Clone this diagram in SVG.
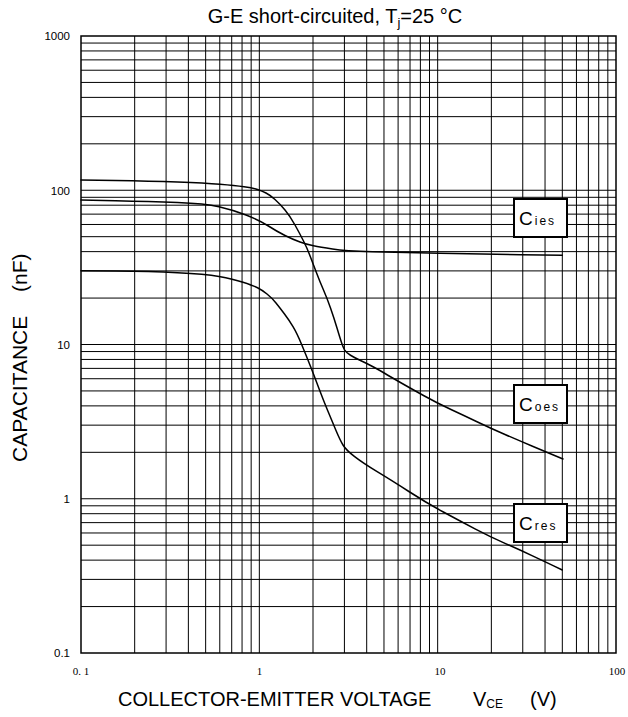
<svg xmlns="http://www.w3.org/2000/svg" width="628" height="717" viewBox="0 0 628 717">
<style>
.grid line{stroke:#000;stroke-width:1;fill:none}
.frame{fill:none;stroke:#000;stroke-width:1.5}
.curve{fill:none;stroke:#000;stroke-width:1.5;stroke-linejoin:round;stroke-linecap:round}
.lbox{fill:#fff;stroke:#000;stroke-width:2}
.sans{font-family:"Liberation Sans",Arial,sans-serif;fill:#000}
.serif{font-family:"Liberation Serif","Times New Roman",serif;fill:#000}
.yt{font-size:11.5px;text-anchor:end}
.xt{font-size:11px;text-anchor:middle}
.big{font-size:20px}
.cbig{font-size:19px}
.csub{font-size:12px;letter-spacing:2px}
</style>
<rect width="628" height="717" fill="#fff"/>
<g id="grid" class="grid">
<line x1="134.68" y1="36" x2="134.68" y2="653"/><line x1="166.09" y1="36" x2="166.09" y2="653"/><line x1="188.37" y1="36" x2="188.37" y2="653"/><line x1="205.65" y1="36" x2="205.65" y2="653"/><line x1="219.77" y1="36" x2="219.77" y2="653"/><line x1="231.71" y1="36" x2="231.71" y2="653"/><line x1="242.05" y1="36" x2="242.05" y2="653"/><line x1="251.17" y1="36" x2="251.17" y2="653"/><line x1="259.33" y1="36" x2="259.33" y2="653"/>
<line x1="313.01" y1="36" x2="313.01" y2="653"/><line x1="344.42" y1="36" x2="344.42" y2="653"/><line x1="366.7" y1="36" x2="366.7" y2="653"/><line x1="383.98" y1="36" x2="383.98" y2="653"/><line x1="398.1" y1="36" x2="398.1" y2="653"/><line x1="410.04" y1="36" x2="410.04" y2="653"/><line x1="420.38" y1="36" x2="420.38" y2="653"/><line x1="429.5" y1="36" x2="429.5" y2="653"/><line x1="437.67" y1="36" x2="437.67" y2="653"/>
<line x1="491.35" y1="36" x2="491.35" y2="653"/><line x1="522.76" y1="36" x2="522.76" y2="653"/><line x1="545.04" y1="36" x2="545.04" y2="653"/><line x1="562.32" y1="36" x2="562.32" y2="653"/><line x1="576.44" y1="36" x2="576.44" y2="653"/><line x1="588.38" y1="36" x2="588.38" y2="653"/><line x1="598.72" y1="36" x2="598.72" y2="653"/><line x1="607.84" y1="36" x2="607.84" y2="653"/>
<line x1="81" y1="143.82" x2="616" y2="143.82"/><line x1="81" y1="116.65" x2="616" y2="116.65"/><line x1="81" y1="97.38" x2="616" y2="97.38"/><line x1="81" y1="82.43" x2="616" y2="82.43"/><line x1="81" y1="70.22" x2="616" y2="70.22"/><line x1="81" y1="59.89" x2="616" y2="59.89"/><line x1="81" y1="50.95" x2="616" y2="50.95"/><line x1="81" y1="43.06" x2="616" y2="43.06"/>
<line x1="81" y1="190.25" x2="616" y2="190.25"/><line x1="81" y1="298.07" x2="616" y2="298.07"/><line x1="81" y1="270.9" x2="616" y2="270.9"/><line x1="81" y1="251.63" x2="616" y2="251.63"/><line x1="81" y1="236.68" x2="616" y2="236.68"/><line x1="81" y1="224.47" x2="616" y2="224.47"/><line x1="81" y1="214.14" x2="616" y2="214.14"/><line x1="81" y1="205.2" x2="616" y2="205.2"/><line x1="81" y1="197.31" x2="616" y2="197.31"/>
<line x1="81" y1="344.5" x2="616" y2="344.5"/><line x1="81" y1="452.32" x2="616" y2="452.32"/><line x1="81" y1="425.15" x2="616" y2="425.15"/><line x1="81" y1="405.88" x2="616" y2="405.88"/><line x1="81" y1="390.93" x2="616" y2="390.93"/><line x1="81" y1="378.72" x2="616" y2="378.72"/><line x1="81" y1="368.39" x2="616" y2="368.39"/><line x1="81" y1="359.45" x2="616" y2="359.45"/><line x1="81" y1="351.56" x2="616" y2="351.56"/>
<line x1="81" y1="498.75" x2="616" y2="498.75"/><line x1="81" y1="606.57" x2="616" y2="606.57"/><line x1="81" y1="579.4" x2="616" y2="579.4"/><line x1="81" y1="560.13" x2="616" y2="560.13"/><line x1="81" y1="545.18" x2="616" y2="545.18"/><line x1="81" y1="532.97" x2="616" y2="532.97"/><line x1="81" y1="522.64" x2="616" y2="522.64"/><line x1="81" y1="513.7" x2="616" y2="513.7"/><line x1="81" y1="505.81" x2="616" y2="505.81"/>
<rect class="frame" x="81" y="36" width="535" height="617"/>
</g>
<g id="connectors">
<path id="curve-coes" class="curve" d="M81,180 L115.5,180.5 Q150,181 177.5,182 Q205,183 220,184.25 Q235,185.5 244,186.75 Q253,188 257.5,189.5 Q262,191 266,193 Q270,195 275,199.5 Q280,204 285,210 Q290,216 295,225 Q300,234 303.5,241 Q307,248 309.5,254.5 Q312,261 316,271.5 Q320,282 323.5,290 Q327,298 330.5,308 Q334,318 337,328 Q340,338 341.5,342.5 Q343,347 344.5,349.75 Q346,352.5 350.5,355.25 Q355,358 361,360.75 Q367,363.5 373.5,367 Q380,370.5 385,373.5 Q390,376.5 400,382.25 Q410,388 423.5,395.5 Q437,403 451,409.5 Q465,416 477.5,422 Q490,428 505,434.5 Q520,441 532.5,446.25 Q545,451.5 554,455.25 L563,459"/>
<path id="curve-cies" class="curve" d="M81,200 L115.5,200.75 Q150,201.5 177.5,202.5 Q205,203.5 219,206.75 Q233,210 246,215 Q259,220 268,225.75 Q277,231.5 285,235.5 Q293,239.5 300,242 Q307,244.5 313.5,245.75 Q320,247 332.5,249 Q345,251 372.5,251.75 Q400,252.5 440,253.25 Q480,254 521.15,254.65 L562.3,255.3"/>
<path id="curve-cres" class="curve" d="M81,270.7 L115.5,271.1 Q150,271.5 177.5,272.75 Q205,274 219,276.5 Q233,279 243,282.25 Q253,285.5 257.5,287.75 Q262,290 267,294 Q272,298 276,303 Q280,308 284.5,314 Q289,320 293,326.65 Q297,333.3 301.85,345 Q306.7,356.7 310.85,367.35 Q315,378 319.15,389 Q323.3,400 327.65,410.5 Q332,421 336,430.5 Q340,440 343,445 Q346,450 354.65,456.65 Q363.3,463.3 377.15,471.65 Q391,480 408.85,491.5 Q426.7,503 443.35,512 Q460,521 475,528.85 Q490,536.7 505,543.35 Q520,550 532.5,555.85 Q545,561.7 553.65,565.85 L562.3,570"/>
</g>
<g id="label-cies">
<rect class="lbox" x="514" y="199" width="53" height="38"/>
<text class="sans" x="519" y="225"><tspan class="cbig">C</tspan><tspan class="csub" dx="2">ies</tspan></text>
</g>
<g id="label-coes">
<rect class="lbox" x="514" y="385" width="53" height="38"/>
<text class="sans" x="519" y="411"><tspan class="cbig">C</tspan><tspan class="csub" dx="2">oes</tspan></text>
</g>
<g id="label-cres">
<rect class="lbox" x="514" y="504" width="53" height="38"/>
<text class="sans" x="519" y="530"><tspan class="cbig">C</tspan><tspan class="csub" dx="2">res</tspan></text>
</g>
<g id="y-ticks" class="sans yt">
<text x="70" y="40">1000</text>
<text x="70" y="194.5">100</text>
<text x="70" y="349">10</text>
<text x="70" y="503">1</text>
<text x="70" y="657">0.1</text>
</g>
<g id="x-ticks" class="serif xt">
<text x="81" y="675">0. 1</text>
<text x="259.5" y="675">1</text>
<text x="440" y="675">10</text>
<text x="617" y="675">100</text>
</g>
<g id="title">
<text class="sans big" x="335" y="23" text-anchor="middle">G-E short-circuited, T<tspan font-size="13px" dy="4">j</tspan><tspan dy="-4">=25 °C</tspan></text>
</g>
<g id="x-axis-label">
<text class="sans big" x="118" y="706">COLLECTOR-EMITTER VOLTAGE<tspan x="473">V</tspan><tspan font-size="12px" dy="2">CE</tspan><tspan x="530" dy="-2">(V)</tspan></text>
</g>
<g id="y-axis-label" class="sans" font-size="21px">
<text transform="translate(27,462) rotate(-90)">CAPACITANCE</text>
<text transform="translate(27,292) rotate(-90)">(nF)</text>
</g>
</svg>
